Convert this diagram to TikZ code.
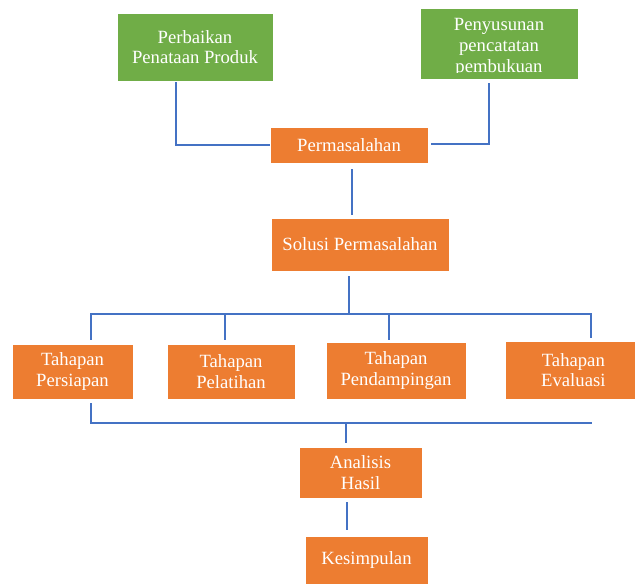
\documentclass[tikz,border=0pt]{standalone}
\usepackage{fontspec}
\setmainfont{Liberation Serif}
\usetikzlibrary{calc}
\definecolor{greenBox}{HTML}{70AD47}
\definecolor{orangeBox}{HTML}{ED7D31}
\definecolor{lineBlue}{HTML}{4472C4}
\begin{document}
\begin{tikzpicture}[x=0.75pt, y=-0.75pt,
		box/.style={fill=#1, draw=white, line width=0.4pt, text=white, align=center, inner sep=0,
			font=\fontsize{14}{15.5}\selectfont},
		box/.default=orangeBox,
		line/.style={draw=lineBlue, line width=1.3pt}]
	\useasboundingbox (0,0) rectangle (635,584);
	% top row
	\node[box=greenBox, minimum width=117pt, minimum height=51pt] (perbaikan) at (195, 47) {Perbaikan\\Penataan Produk};
	\node[box=greenBox, minimum width=118.5pt, minimum height=53.25pt] (penyusunan) at (499, 43.5) {};
	\begin{scope}
		\clip (penyusunan.north west) rectangle ($(penyusunan.south east)+(0,-7)$);
		\node[text=white, align=center, inner sep=0, anchor=north, font=\fontsize{14}{16}\selectfont] (penyusunan_txt) at ($(penyusunan.north)+(0,10)$) {Penyusunan\\pencatatan\\pembukuan};
	\end{scope}
	\node[box, minimum width=118.5pt, minimum height=27pt] (permasalahan) at (349, 145) {Permasalahan};
	\node[box, minimum width=133.5pt, minimum height=39.75pt] (solusi) at (360, 244.5) {Solusi Permasalahan};
	% tahapan
	\node[box, minimum width=90.75pt, minimum height=41.25pt] (persiapan) at (72.5, 371.5) {Tahapan\\Persiapan};
	\node[box, minimum width=96pt, minimum height=41.25pt] (pelatihan) at (231, 371.5) {Tahapan\\Pelatihan};
	\node[box, minimum width=105pt, minimum height=42.75pt] (pendampingan) at (396, 370.5) {Tahapan\\Pendampingan};
	\node[box, minimum width=97.5pt, minimum height=43.5pt] (evaluasi) at (570, 370) {\hspace{5pt}Tahapan\\\hspace{5pt}Evaluasi};
	\node[box, minimum width=92.25pt, minimum height=38.25pt] (analisis) at (360.5, 472.5) {Analisis\\Hasil};
	\node[box, minimum width=92.25pt, minimum height=36pt] (kesimpulan) at (366.5, 560) {Kesimpulan};
	% connectors
	\path[line] ($(perbaikan.south)+(-19,1)$) |- (permasalahan.west);
	\path[line] ($(penyusunan.south)+(-10,4)$) |- ($(permasalahan.east)+(3,-1)$);
	\path[line] ($(permasalahan.south)+(3,6)$) -- ($(solusi.north)+(-8,-3)$);
	\path[line] ($(solusi.south)+(-11,5)$) -- ($(solusi.south)+(-11,43)$);
	\path[line] ($(persiapan.north)+(18.5,-4)$) |- ($(evaluasi.north)+(21,-27)$) -- ($(evaluasi.north)+(21,-3)$);
	\path[line] ($(pelatihan.north)+(-6,-4)$) -- ($(pelatihan.north)+(-6,-30)$);
	\path[line] ($(pendampingan.north)+(-7,-2)$) -- ($(pendampingan.north)+(-7,-28)$);
	\path[line] ($(persiapan.south)+(18.5,4)$) |- ($(evaluasi.south)+(22,24)$);
	\path[line] ($(analisis.north)+(-14.5,-24)$) -- ($(analisis.north)+(-14.5,-4)$);
	\path[line] ($(analisis.south)+(-13.5,4)$) -- ($(kesimpulan.north)+(-19.5,-6)$);
\end{tikzpicture}
\end{document}
